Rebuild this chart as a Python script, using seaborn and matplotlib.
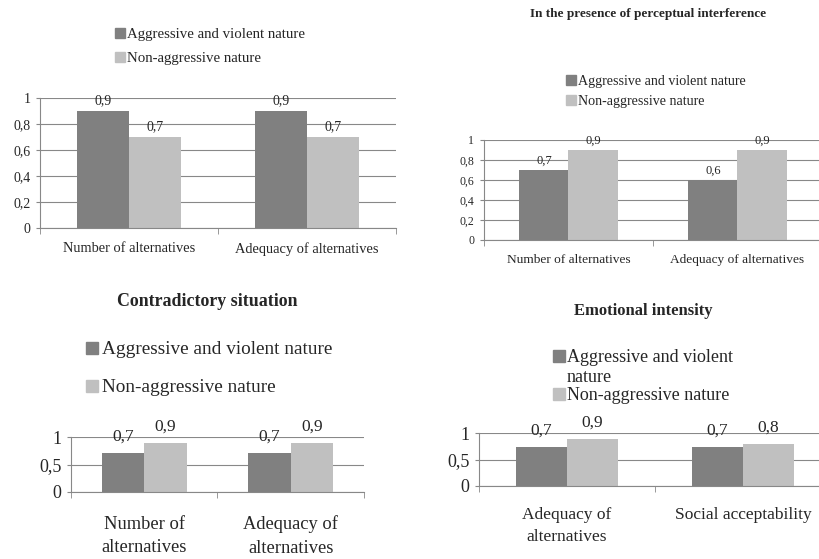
import numpy as np
import pandas as pd
import matplotlib
matplotlib.use("Agg")
import matplotlib.pyplot as plt
import seaborn as sns
from matplotlib.patches import Rectangle

# series shared by all four panels
series = ["Aggressive and violent nature", "Non-aggressive nature"]
colors = ["#808080", "#c0c0c0"]

# top left (no title)
base_categories = ["Number of alternatives", "Adequacy of alternatives"]
base_aggr = [0.9, 0.9]
base_non = [0.7, 0.7]

# top right
interf_title = "In the presence of perceptual interference"
interf_categories = ["Number of alternatives", "Adequacy of alternatives"]
interf_aggr = [0.7, 0.6]
interf_non = [0.9, 0.9]

# bottom left
contr_title = "Contradictory situation"
contr_categories = ["Number of\nalternatives", "Adequacy of\nalternatives"]
contr_aggr = [0.71, 0.71]
contr_non = [0.9, 0.9]

# bottom right
emot_title = "Emotional intensity"
emot_categories = ["Adequacy of\nalternatives", "Social acceptability"]
emot_legend = ["Aggressive and violent\nnature", "Non-aggressive nature"]
emot_aggr = [0.73, 0.73]
emot_non = [0.89, 0.8]

ticks_fine = [0, 0.2, 0.4, 0.6, 0.8, 1]
ticks_coarse = [0, 0.5, 1]

grid_color = "#888888"
W, H = 820, 559

sns.set_style("white")
plt.rcParams['font.family'] = ['Liberation Serif', 'DejaVu Serif']

fig = plt.figure(figsize=(W / 100, H / 100), dpi=100)


def fmt(v):
    if abs(v - round(v)) < 1e-9:
        return str(int(round(v)))
    return f"{v:.1f}".replace(".", ",")


def px_rect(left, right, top, bottom):
    """axes rect from pixel edges"""
    return [left / W, 1 - bottom / H, (right - left) / W, (bottom - top) / H]


def draw_panel(rect, categories, aggr, non, yticks, tick_fs, cat_fs, val_fs,
               cat_pad, val_pad, cat_spacing=1.2):
    ax = fig.add_axes(rect)
    n = len(categories)
    df = pd.DataFrame({
        "category": categories * 2,
        "group": [series[0]] * n + [series[1]] * n,
        "value": aggr + non,
    })
    sns.barplot(data=df, x="category", y="value", hue="group", hue_order=series,
                palette=colors, saturation=1, width=0.58, linewidth=0,
                ax=ax, legend=False)
    ax.set_xlim(-0.5, n - 0.5)
    ax.set_ylim(0, 1)
    ax.set_yticks(yticks)
    ax.set_yticklabels([fmt(t) for t in yticks], fontsize=tick_fs)
    ax.yaxis.grid(True, color=grid_color, linewidth=0.8)
    ax.xaxis.grid(False)
    ax.set_axisbelow(True)
    ax.set_xticks(np.arange(-0.5, n), minor=True)
    ax.tick_params(axis='x', which='major', length=0, labelsize=cat_fs, pad=cat_pad)
    ax.tick_params(axis='x', which='minor', bottom=True, length=4, color=grid_color)
    ax.tick_params(axis='y', left=True, length=3, color=grid_color, pad=4)
    for lab in ax.get_xticklabels():
        lab.set_linespacing(cat_spacing)
    for side in ['top', 'right']:
        ax.spines[side].set_visible(False)
    for side in ['left', 'bottom']:
        ax.spines[side].set_color(grid_color)
        ax.spines[side].set_linewidth(0.8)
    ax.set_xlabel("")
    ax.set_ylabel("")
    for container, vals in zip(ax.containers, [aggr, non]):
        ax.bar_label(container, labels=[fmt(v) for v in vals], padding=val_pad,
                     fontsize=val_fs)
    return ax


def add_legend(x, baselines, fs, sq, labels=series, line_px=20, gap=2):
    for label, color, yb in zip(labels, colors, baselines):
        fig.patches.append(Rectangle((x / W, 1 - yb / H), sq / W, sq / H,
                                     transform=fig.transFigure, color=color))
        # matplotlib puts the baseline of the last line at y
        y_text = yb + label.count("\n") * line_px
        fig.text((x + sq + gap) / W, 1 - y_text / H, label, fontsize=fs,
                 va='baseline', ha='left', linespacing=1.2)


# top left
draw_panel(px_rect(40, 396, 98, 228), base_categories, base_aggr, base_non,
           ticks_fine, 10, 10.4, 10, 10, 3)
add_legend(115, [38, 62], 10.7, 10)

# top right
draw_panel(px_rect(484, 822, 140, 240), interf_categories, interf_aggr, interf_non,
           ticks_fine, 8.5, 9.6, 9, 10, 2)
fig.text(648 / W, 1 - 14 / H, interf_title, fontsize=9.5, fontweight='bold',
         ha='center', va='center')
add_legend(566, [85, 105], 10.1, 10)

# bottom left
draw_panel(px_rect(71, 364, 437, 492), contr_categories, contr_aggr, contr_non,
           ticks_coarse, 13, 13.3, 12.5, 17, 6, cat_spacing=1.5)
fig.text(207 / W, 1 - 302 / H, contr_title, fontsize=12.9, fontweight='bold',
         ha='center', va='center')
add_legend(86, [354, 392], 13.9, 12, gap=4)

# bottom right
draw_panel(px_rect(479, 831, 433, 486), emot_categories, emot_aggr, emot_non,
           ticks_coarse, 13, 12.5, 12.5, 15, 6, cat_spacing=1.55)
fig.text(643 / W, 1 - 311 / H, emot_title, fontsize=12, fontweight='bold',
         ha='center', va='center')
add_legend(553, [362, 400], 13, 12, labels=emot_legend)

fig.savefig("out.png", dpi=100)
